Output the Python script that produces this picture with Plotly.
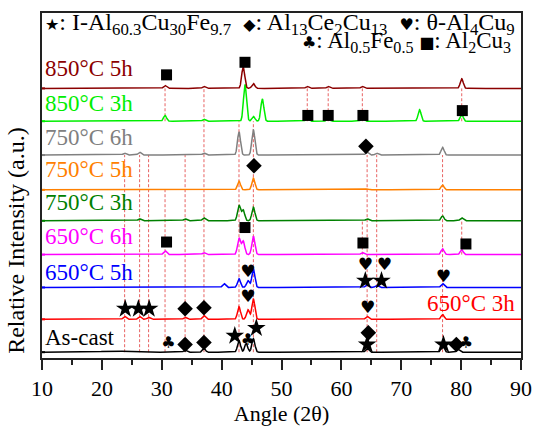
import numpy as np
import plotly.graph_objects as go

# ---- samples, bottom of the stack first ----
samples = ["As-cast", "650°C 3h", "650°C 5h", "650°C 6h", "750°C 3h",
           "750°C 5h", "750°C 6h", "850°C 3h", "850°C 5h"]
offsets = [6, 40, 73, 107, 142, 174, 210, 245, 279]

# ---- peak lists per sample: 2θ position and height above the baseline ----
ascast_pos = [22.0, 33.9, 37.05, 42.9, 44.1, 45.3, 64.3, 76.9, 79.5]
ascast_int = [1, 2, 4, 12, 9, 14, 4, 8, 3]
s650_3_pos = [23.8, 26.3, 27.8, 33.9, 37.05, 42.9, 44.4, 45.3, 64.3, 76.9]
s650_3_int = [3, 3, 2, 2, 4, 13, 10, 21, 3, 5]
s650_5_pos = [40.4, 42.9, 44.4, 45.3, 64.3, 65.9, 76.9]
s650_5_int = [4, 9, 7, 19, 3, 2, 4]
s650_6_pos = [30.55, 37.05, 42.9, 43.6, 45.3, 63.5, 76.9, 80.1]
s650_6_int = [4, 2, 17, 14, 19, 2, 6, 5]
s750_3_pos = [26.3, 33.9, 37.05, 42.9, 43.6, 45.3, 64.3, 76.9, 80.1]
s750_3_int = [2, 2, 3, 16, 11, 14, 2, 5, 3]
s750_5_pos = [42.9, 45.3, 64.3, 76.9]
s750_5_int = [9, 12, 1, 5]
s750_6_pos = [23.8, 26.3, 37.05, 42.9, 45.3, 64.3, 65.9, 76.9]
s750_6_int = [2, 3, 2, 24, 26, 3, 2, 8]
s850_3_pos = [30.55, 37.05, 43.9, 45.3, 46.8, 54.3, 57.8, 63.5, 73.05, 80.1]
s850_3_int = [6, 2, 38, 5, 23, 3, 3, 3, 12, 7]
s850_5_pos = [30.55, 37.05, 43.6, 45.3, 54.3, 57.8, 63.5, 80.1]
s850_5_int = [3, 2, 22, 5, 2, 2, 2, 10]

peak_pos = [ascast_pos, s650_3_pos, s650_5_pos, s650_6_pos, s750_3_pos,
            s750_5_pos, s750_6_pos, s850_3_pos, s850_5_pos]
peak_int = [ascast_int, s650_3_int, s650_5_int, s650_6_int, s750_3_int,
            s750_5_int, s750_6_int, s850_3_int, s850_5_int]

# ---- phase markers: 2θ, sample index, lift above that sample's baseline ----
star_ang = [64.0, 66.7, 23.9, 26.1, 27.9, 42.2, 45.8, 64.3, 77.05]
star_smp = [2, 2, 1, 1, 1, 0, 0, 0, 0]
star_lift = [7, 7, 11, 11, 11, 17, 25, 8, 8]

diam_ang = [64.1, 45.4, 33.9, 37.05, 33.9, 37.05, 64.5, 79.2]
diam_smp = [6, 5, 1, 1, 0, 0, 0, 0]
diam_lift = [9, 25, 11, 12, 8, 10, 20, 8]

heart_ang = [44.4, 64.0, 67.2, 77.05, 44.4, 64.4]
heart_smp = [2, 2, 2, 2, 1, 1]
heart_lift = [15, 22, 22, 10, 22, 11]

club_ang = [31.1, 44.4, 80.8]
club_smp = [0, 0, 0]
club_lift = [9, 12, 9]

square_ang = [30.8, 43.9, 54.4, 57.8, 63.6, 80.2, 30.8, 43.9, 63.6, 80.8]
square_smp = [8, 8, 7, 7, 7, 7, 3, 3, 3, 3]
square_lift = [14, 27, 6, 6, 6, 11, 13, 28, 12, 11]

# ---- reference lines: 2θ, from sample (top) down to sample (bottom) ----
ref_ang = [23.8, 26.3, 27.8, 30.55, 30.55, 33.9, 37.05, 42.9, 45.3,
           54.3, 57.8, 63.5, 63.5, 64.3, 65.9, 76.9, 80.1, 80.1]
ref_top = [6, 6, 6, 8, 5, 6, 8, 7, 7, 8, 8, 8, 4, 6, 6, 6, 8, 4]
ref_bot = [0, 0, 0, 7, 0, 0, 0, 0, 0, 7, 7, 7, 3, 0, 0, 0, 7, 3]

line_colors = ["#000000", "#ff0000", "#0000ff", "#ff00ff", "#008000",
               "#ff8000", "#808080", "#00ee00", "#8b0000"]

SERIF = "Liberation Serif"
SYM = "DejaVu Sans"

theta = np.arange(10.0, 90.0001, 0.02)
sigma = 0.25

fig = go.Figure()

# dashed reference lines behind the patterns
for a, t, b in zip(ref_ang, ref_top, ref_bot):
    fig.add_trace(go.Scatter(
        x=[a, a], y=[offsets[b], offsets[t]], mode="lines",
        line=dict(color="rgba(228,70,70,0.85)", width=1, dash="3px,2px"),
        hoverinfo="skip", showlegend=False))

# stacked diffraction patterns
for i, name in enumerate(samples):
    y = np.full_like(theta, float(offsets[i]))
    for p, h in zip(peak_pos[i], peak_int[i]):
        w = 3.0 if p == 22.0 else sigma
        y += h * np.exp(-0.5 * ((theta - p) / w) ** 2)
    fig.add_trace(go.Scatter(x=theta, y=y, mode="lines", name=name,
                             line=dict(color=line_colors[i], width=1.5),
                             showlegend=False))


def marker_y(smp, lift):
    return [offsets[s] + l for s, l in zip(smp, lift)]


fig.add_trace(go.Scatter(x=star_ang, y=marker_y(star_smp, star_lift), mode="markers",
                         marker=dict(symbol="star", size=14, color="black"),
                         showlegend=False))
fig.add_trace(go.Scatter(x=diam_ang, y=marker_y(diam_smp, diam_lift), mode="markers",
                         marker=dict(symbol="diamond", size=12, color="black"),
                         showlegend=False))
fig.add_trace(go.Scatter(x=square_ang, y=marker_y(square_smp, square_lift), mode="markers",
                         marker=dict(symbol="square", size=11, color="black"),
                         showlegend=False))
fig.add_trace(go.Scatter(x=heart_ang, y=marker_y(heart_smp, heart_lift), mode="text",
                         text=["♥"] * len(heart_ang),
                         textfont=dict(family=SYM, size=17, color="black"),
                         showlegend=False))
fig.add_trace(go.Scatter(x=club_ang, y=marker_y(club_smp, club_lift), mode="text",
                         text=["♣"] * len(club_ang),
                         textfont=dict(family=SYM, size=16, color="black"),
                         showlegend=False))

shapes = []
# coloured zero-level ticks on the intensity axis
for off, c in zip(offsets, line_colors):
    shapes.append(dict(type="line", xref="x", yref="y", x0=10, x1=10.5, y0=off, y1=off,
                       line=dict(color=c, width=2)))

annotations = []
# sample labels
label_y = [21, None, 88, 126, 161, 195, 228, 263, 300]
for i, name in enumerate(samples):
    if label_y[i] is None:
        continue
    annotations.append(dict(x=10.2, y=label_y[i], xref="x", yref="y", text=name,
                            showarrow=False, xanchor="left", yanchor="middle",
                            font=dict(family=SERIF, size=23, color=line_colors[i])))
annotations.append(dict(x=89.4, y=56, xref="x", yref="y", text=samples[1],
                        showarrow=False, xanchor="right", yanchor="middle",
                        font=dict(family=SERIF, size=23, color=line_colors[1])))


def sym(ch):
    return '<span style="font-family:DejaVu Sans;font-size:16px">' + ch + '</span>'


legend1 = (sym("★") + ": I-Al<sub>60.3</sub>Cu<sub>30</sub>Fe<sub>9.7</sub>&nbsp;&nbsp;"
           + sym("◆") + ": Al<sub>13</sub>Ce<sub>2</sub>Cu<sub>13</sub>&nbsp;&nbsp;"
           + sym("♥") + ": θ-Al<sub>4</sub>Cu<sub>9</sub>")
legend2 = (sym("♣") + ": Al<sub>0.5</sub>Fe<sub>0.5</sub> "
           + sym("■") + ": Al<sub>2</sub>Cu<sub>3</sub>")
annotations.append(dict(x=10.2, y=346, xref="x", yref="y", text=legend1, showarrow=False,
                        xanchor="left", yanchor="middle",
                        font=dict(family=SERIF, size=24, color="black")))
annotations.append(dict(x=88.6, y=327, xref="x", yref="y", text=legend2, showarrow=False,
                        xanchor="right", yanchor="middle",
                        font=dict(family=SERIF, size=23, color="black")))

# intensity axis title
annotations.append(dict(x=-0.054, y=0.34, xref="paper", yref="paper",
                        text="Relative Intensity (a.u.)", showarrow=False, textangle=-90,
                        xanchor="center", yanchor="middle",
                        font=dict(family=SERIF, size=24, color="black")))

fig.update_layout(
    width=543, height=432,
    margin=dict(l=42, r=21, t=11, b=64),
    paper_bgcolor="white", plot_bgcolor="white",
    shapes=shapes, annotations=annotations,
    xaxis=dict(range=[10, 90], dtick=10, tick0=10, ticks="outside", ticklen=10, tickwidth=1.5,
               tickcolor="#222", showline=True, linecolor="#222", linewidth=2, mirror=True,
               showgrid=False, zeroline=False,
               tickfont=dict(family=SERIF, size=22, color="black"),
               minor=dict(dtick=5, tick0=10, ticks="outside", ticklen=5, tickwidth=1.5,
                          tickcolor="#222"),
               title=dict(text="Angle (2θ)", standoff=4,
                          font=dict(family=SERIF, size=22, color="black"))),
    yaxis=dict(range=[0, 357], showticklabels=False, ticks="", showline=True,
               linecolor="#222", linewidth=2, mirror=True, showgrid=False, zeroline=False),
)

fig.write_html("out.html")
